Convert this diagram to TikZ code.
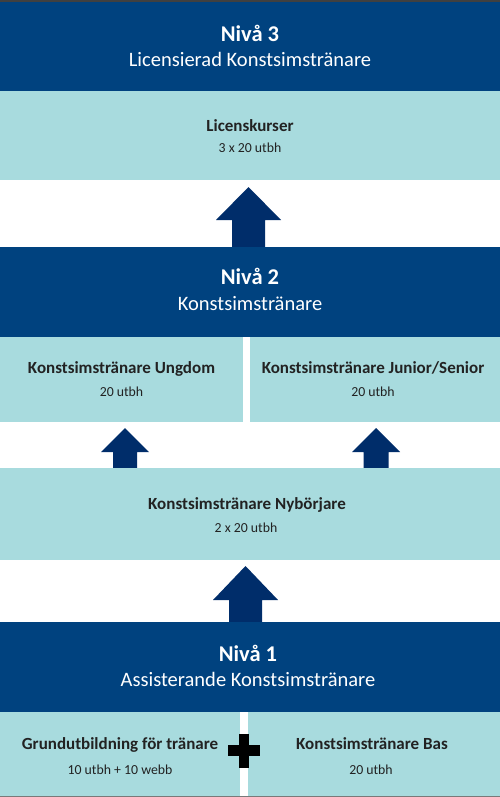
\documentclass[tikz,border=0pt]{standalone}
\usepackage{fontspec}
\setmainfont{Carlito}
\definecolor{bandblue}{RGB}{0,66,127}
\definecolor{arrowblue}{RGB}{0,45,106}
\definecolor{lightteal}{RGB}{168,219,222}
\definecolor{txt}{RGB}{34,34,34}
\definecolor{topline}{RGB}{64,64,64}
\begin{document}
\begin{tikzpicture}[x=1pt,y=-1pt,
  box/.style={rectangle,inner sep=0pt,outer sep=0pt,anchor=north west},
  band/.style={box,fill=bandblue},
  lbox/.style={box,fill=lightteal},
  lvl/.style={anchor=base,inner sep=0pt,text=white,font=\fontsize{22.5}{26}\selectfont\bfseries},
  sub/.style={anchor=base,inner sep=0pt,text=white,font=\fontsize{20.5}{24}\selectfont},
  ttl/.style={anchor=base,inner sep=0pt,text=txt,font=\fontsize{17}{20}\selectfont\bfseries},
  hrs/.style={anchor=base,inner sep=0pt,text=txt,font=\fontsize{13.8}{16}\selectfont},
  blockarrow/.style={fill=arrowblue}]
\useasboundingbox (0,0) rectangle (500,797);
\fill[white] (0,0) rectangle (500,797);
% top strip
\fill[topline] (0,0) rectangle (500,2);
% level 3
\node[band,minimum width=500pt,minimum height=89pt] (n3) at (0,2) {};
\node[lvl] (n3t) at (250,42) {Nivå 3};
\node[sub] (n3s) at (250,66.5) {Licensierad Konstsimstränare};
\node[lbox,minimum width=500pt,minimum height=89pt] (lic) at (0,91) {};
\node[ttl] (lict) at (250,131.5) {Licenskurser};
\node[hrs] (lich) at (250,152.5) {3 x 20 utbh};
% arrow to level 3
\fill[blockarrow] (232,247) -- (232,220) -- (216,220) -- (248.5,187) -- (281,220) -- (265,220) -- (265,247) -- cycle;
% level 2
\node[band,minimum width=500pt,minimum height=90pt] (n2) at (0,247) {};
\node[lvl] (n2t) at (250,284.3) {Nivå 2};
\node[sub] (n2s) at (250,310) {Konstsimstränare};
\node[lbox,minimum width=243pt,minimum height=85pt] (ung) at (0,337) {};
\node[lbox,minimum width=250pt,minimum height=85pt] (jun) at (250,337) {};
\node[ttl] (ungt) at (121.5,373.3) {Konstsimstränare Ungdom};
\node[hrs] (ungh) at (121.5,396.7) {20 utbh};
\node[ttl] (junt) at (373,373.3) {Konstsimstränare Junior/Senior};
\node[hrs] (junh) at (373,396.7) {20 utbh};
% small arrows
\fill[blockarrow] (113,468) -- (113,452) -- (101,452) -- (125,428) -- (149,452) -- (137,452) -- (137,468) -- cycle;
\fill[blockarrow] (363.5,468) -- (363.5,452) -- (352,452) -- (376,428) -- (400,452) -- (388.5,452) -- (388.5,468) -- cycle;
% beginner
\node[lbox,minimum width=500pt,minimum height=92pt] (nyb) at (0,468) {};
\node[ttl] (nybt) at (247,509) {Konstsimstränare Nybörjare};
\node[hrs] (nybh) at (246,532) {2 x 20 utbh};
% arrow to beginner
\fill[blockarrow] (229,622) -- (229,600) -- (213,600) -- (245.5,566) -- (278,600) -- (262,600) -- (262,622) -- cycle;
% level 1
\node[band,minimum width=500pt,minimum height=90pt] (n1) at (0,622) {};
\node[lvl] (n1t) at (248,661.7) {Nivå 1};
\node[sub] (n1s) at (248,686) {Assisterande Konstsimstränare};
\node[lbox,minimum width=240pt,minimum height=84pt] (gru) at (0,712) {};
\node[lbox,minimum width=252pt,minimum height=84pt] (bas) at (248,712) {};
\fill[topline!70] (0,796) rectangle (500,797);
\node[ttl] (grut) at (120,749) {Grundutbildning för tränare};
\node[hrs] (gruh) at (120,774) {10 utbh + 10 webb};
\node[ttl] (bast) at (372,749) {Konstsimstränare Bas};
\node[hrs] (bash) at (371,774) {20 utbh};
% plus sign
\fill[black] (228,745) rectangle (260,756);
\fill[black] (239,734) rectangle (249,768);
\end{tikzpicture}
\end{document}
